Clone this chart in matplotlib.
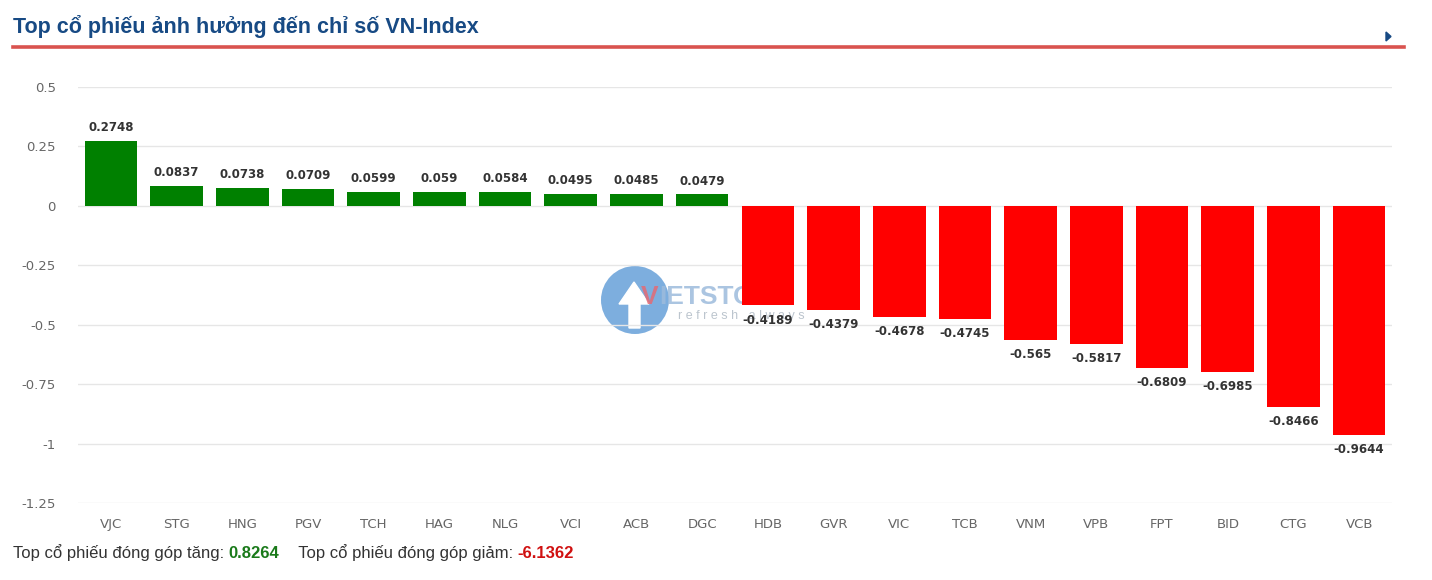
import matplotlib
matplotlib.use("Agg")
import matplotlib.pyplot as plt
from matplotlib.patches import Circle, Polygon
from matplotlib.transforms import IdentityTransform
import numpy as np

tickers = ["VJC", "STG", "HNG", "PGV", "TCH", "HAG", "NLG", "VCI", "ACB", "DGC",
           "HDB", "GVR", "VIC", "TCB", "VNM", "VPB", "FPT", "BID", "CTG", "VCB"]
impact = [0.2748, 0.0837, 0.0738, 0.0709, 0.0599, 0.059, 0.0584, 0.0495, 0.0485, 0.0479,
          -0.4189, -0.4379, -0.4678, -0.4745, -0.565, -0.5817, -0.6809, -0.6985, -0.8466, -0.9644]
y_ticks = [0.5, 0.25, 0, -0.25, -0.5, -0.75, -1, -1.25]
y_labels = ["0.5", "0.25", "0", "-0.25", "-0.5", "-0.75", "-1", "-1.25"]
total_up = "0.8264"
total_down = "-6.1362"

W, H = 1432, 580
fig = plt.figure(figsize=(W / 100, H / 100), dpi=100)
fig.patch.set_facecolor("white")

# title + red rule
fig.text(13 / W, 1 - 27 / H, "Top cổ phiếu ảnh hưởng đến chỉ số VN-Index",
         family="Liberation Sans", weight="bold", fontsize=15.5, color="#174a84",
         va="center", ha="left")
fig.add_artist(plt.Line2D([13 / W, 1404 / W], [1 - 47 / H, 1 - 47 / H],
                          color="#d9534f", lw=2.6))
fig.add_artist(Polygon([[1386 / W, 1 - 32 / H], [1386 / W, 1 - 41 / H], [1391 / W, 1 - 36.5 / H]],
                       closed=True, color="#174a84"))

ax = fig.add_axes([78 / W, 1 - 503 / H, (1392 - 78) / W, (503 - 87) / H])
ax.set_facecolor("none")

# faint watermark behind the bars (pixel coords)
px = IdentityTransform()
cx, cy = 635, H - 300
fig.add_artist(Circle((cx, cy), 34, transform=px, color="#5d9ad6",
                      alpha=0.8, zorder=-2, ec="none"))
fig.add_artist(Polygon([[cx - 6, cy - 28], [cx + 5, cy - 28], [cx + 5, cy - 4],
                        [cx + 14, cy - 4], [cx - 1, cy + 18], [cx - 16, cy - 4],
                        [cx - 6, cy - 4]],
                       closed=True, transform=px, color="white", zorder=-1))
fig.text(641 / W, 1 - 297 / H, "V", color="#e46a74", fontsize=19, weight="bold",
         family="Liberation Sans", va="center", zorder=-1, alpha=0.85)
fig.text(659 / W, 1 - 297 / H, "IETSTOCK", color="#9dbbdc", fontsize=19, weight="bold",
         family="Liberation Sans", va="center", zorder=-1, alpha=0.85)
fig.text(678 / W, 1 - 316 / H, "r e f r e s h   a l w a y s", color="#bcc5ce", fontsize=9,
         family="Liberation Sans", va="center", zorder=-1)

x = np.arange(len(tickers))
colors = ["#008000" if v >= 0 else "#ff0000" for v in impact]
ax.bar(x, impact, width=0.8, color=colors, zorder=3)

for xi, v in zip(x, impact):
    txt = f"{v:g}"
    if v >= 0:
        ax.annotate(txt, (xi, v), xytext=(0, 5), textcoords="offset points",
                    ha="center", va="bottom", fontsize=8.5, weight="bold", color="#333333", zorder=4)
    else:
        ax.annotate(txt, (xi, v), xytext=(0, -6), textcoords="offset points",
                    ha="center", va="top", fontsize=8.5, weight="bold", color="#333333", zorder=4)

ax.set_xlim(-0.5, len(tickers) - 0.5)
ax.set_ylim(-1.25, 0.5)
ax.set_yticks(y_ticks)
ax.set_yticklabels(y_labels)
ax.set_xticks(x)
ax.set_xticklabels(tickers)
ax.grid(axis="y", color="#e6e6e6", lw=1, zorder=0)
for s in ax.spines.values():
    s.set_visible(False)
ax.tick_params(axis="both", length=0, labelcolor="#666666", labelsize=9.5)
ax.tick_params(axis="y", pad=16)
ax.tick_params(axis="x", pad=11)

# footer with coloured totals
t1 = fig.text(13 / W, 1 - 553 / H, "Top cổ phiếu đóng góp tăng: ", family="Liberation Sans",
              fontsize=12, color="#333333", va="center", ha="left")
t2 = fig.text(0, 0, total_up, family="Liberation Sans", fontsize=12, weight="bold",
              color="#1a7a1a", va="center", ha="left")
t3 = fig.text(0, 0, "    Top cổ phiếu đóng góp giảm: ", family="Liberation Sans",
              fontsize=12, color="#333333", va="center", ha="left")
t4 = fig.text(0, 0, total_down, family="Liberation Sans", fontsize=12, weight="bold",
              color="#d01010", va="center", ha="left")
fig.canvas.draw()
rend = fig.canvas.get_renderer()
xpos = t1.get_window_extent(rend).x1
for t in (t2, t3, t4):
    t.set_position((xpos / W, 1 - 553 / H))
    xpos += t.get_window_extent(rend).width

fig.savefig("out.png", dpi=100)
